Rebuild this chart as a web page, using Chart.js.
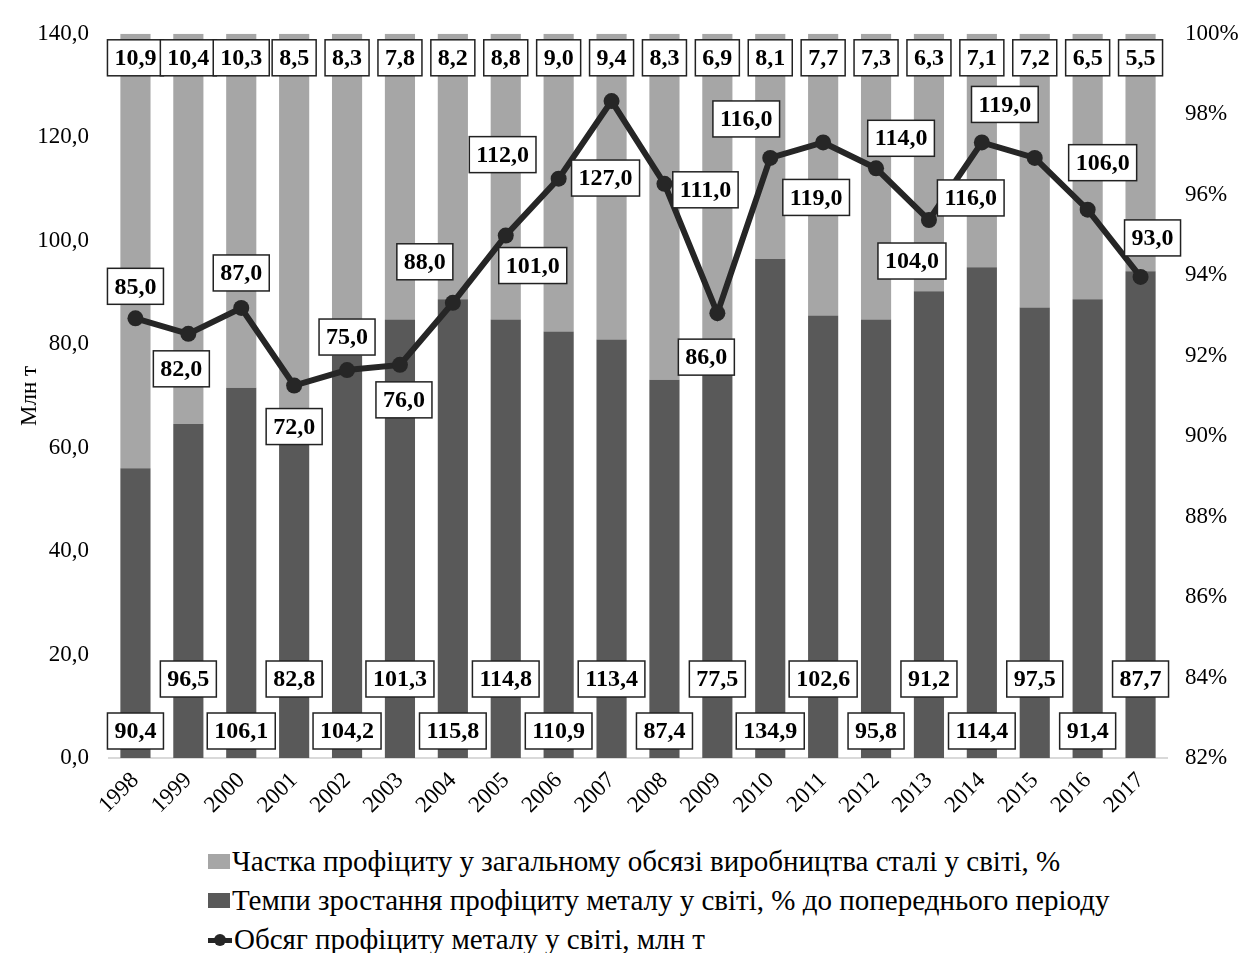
<!DOCTYPE html>
<html lang="uk">
<head>
  <meta charset="UTF-8">
  <title>Профіцит металу у світі</title>
  <script src="https://cdn.jsdelivr.net/npm/chart.js@4.4.1/dist/chart.umd.min.js"></script>
  <style>
    body {
      margin: 0;
      background: #fff;
      font-family: "Liberation Serif", "Times New Roman", serif;
    }
    #wrap {
      position: relative;
      width: 1244px;
      height: 953px;
    }
    #chart {
      position: absolute;
      left: 0;
      top: 0;
    }
    .legend {
      position: absolute;
      left: 208px;
      top: 842px;
      font-size: 29px;
      color: #000;
    }
    .legend .row {
      height: 39px;
      line-height: 39px;
      display: flex;
      align-items: center;
      white-space: nowrap;
    }
    .sw {
      display: inline-block;
      width: 22px;
      height: 15px;
      margin-right: 2px;
    }
    .sw.light { background: #a6a6a6; }
    .sw.dark { background: #595959; }
    .sw.line {
      position: relative;
      width: 24px;
      height: 14px;
      background: none;
    }
    .sw.line::before {
      content: "";
      position: absolute;
      left: 0;
      right: 0;
      top: 5px;
      height: 5px;
      background: #262626;
    }
    .sw.line::after {
      content: "";
      position: absolute;
      left: 6px;
      top: 1px;
      width: 12px;
      height: 12px;
      border-radius: 50%;
      background: #262626;
    }
  </style>
</head>
<body>
  <div id="wrap">
    <canvas id="chart" width="1244" height="840"></canvas>
    <div class="legend">
      <div class="row"><span class="sw light"></span>Частка профіциту у загальному обсязі виробництва сталі у світі, %</div>
      <div class="row"><span class="sw dark"></span>Темпи зростання профіциту металу у світі, % до попереднього періоду</div>
      <div class="row"><span class="sw line"></span>Обсяг профіциту металу у світі, млн т</div>
    </div>
  </div>

  <script>
    const years = ['1998', '1999', '2000', '2001', '2002', '2003', '2004', '2005', '2006', '2007',
                   '2008', '2009', '2010', '2011', '2012', '2013', '2014', '2015', '2016', '2017'];

    // share of surplus in world steel output, %
    const sharePct = [10.9, 10.4, 10.3, 8.5, 8.3, 7.8, 8.2, 8.8, 9.0, 9.4,
                      8.3, 6.9, 8.1, 7.7, 7.3, 6.3, 7.1, 7.2, 6.5, 5.5];

    // growth of surplus vs previous period, %
    const growthPct = [90.4, 96.5, 106.1, 82.8, 104.2, 101.3, 115.8, 114.8, 110.9, 113.4,
                       87.4, 77.5, 134.9, 102.6, 95.8, 91.2, 114.4, 97.5, 91.4, 87.7];

    // surplus volume, mln t
    const surplus = [85, 82, 87, 72, 75, 76, 88, 101, 112, 127,
                     111, 86, 116, 119, 114, 104, 119, 116, 106, 93];

    // height of the dark bar on the right (%) axis
    const darkLevel = [89.2, 90.3, 91.2, 90.1, 92.0, 92.9, 93.4, 92.9, 92.6, 92.4,
                       91.4, 91.8, 94.4, 93.0, 92.9, 93.6, 94.2, 93.2, 93.4, 94.1];

    // where each surplus label sits relative to its point, px
    const surplusLabelShift = [
      [0, -32], [-7, 35], [0, -35], [0, 41], [0, -33], [4, 35], [-28, -41], [27, 30], [-56, -24], [-6, 77],
      [41, 6], [-11, 44], [-24, -39], [-7, 55], [25, -30], [-17, 41], [23, -38], [-64, 40], [15, -47], [12, -39]
    ];

    const fmt = v => v.toFixed(1).replace('.', ',');
    const serif = '"Liberation Serif", "Times New Roman", serif';

    function drawBox(ctx, text, cx, cy) {
      const w = ctx.measureText(text).width + 14;
      const h = 36;
      ctx.fillStyle = '#fff';
      ctx.fillRect(cx - w / 2, cy - h / 2, w, h);
      ctx.lineWidth = 1.5;
      ctx.strokeStyle = '#222';
      ctx.strokeRect(cx - w / 2, cy - h / 2, w, h);
      ctx.fillStyle = '#000';
      ctx.fillText(text, cx, cy + 1);
    }

    const boxLabels = {
      id: 'boxLabels',
      afterDatasetsDraw(chart) {
        const { ctx, scales } = chart;
        const x = scales.x, y = scales.y, yR = scales.yR;
        ctx.save();
        ctx.font = 'bold 24px ' + serif;
        ctx.textAlign = 'center';
        ctx.textBaseline = 'middle';

        const topRow = yR.getPixelForValue(100) + 24;
        const base = y.getPixelForValue(0);
        years.forEach((yr, i) => {
          const cx = x.getPixelForValue(i);
          drawBox(ctx, fmt(sharePct[i]), cx, topRow);
          drawBox(ctx, fmt(growthPct[i]), cx, base - (i % 2 === 0 ? 27 : 79));
        });

        const pts = chart.getDatasetMeta(2).data;
        pts.forEach((p, i) => {
          const [dx, dy] = surplusLabelShift[i];
          drawBox(ctx, fmt(surplus[i]), p.x + dx, p.y + dy);
        });
        ctx.restore();
      }
    };

    const ctx = document.querySelector('#chart').getContext('2d');
    const chart = new Chart(ctx, {
      data: {
        labels: years,
        datasets: [
          {
            type: 'bar',
            label: 'Темпи зростання профіциту металу у світі, % до попереднього періоду',
            data: darkLevel,
            yAxisID: 'yR',
            backgroundColor: '#595959',
            barPercentage: 0.57,
            categoryPercentage: 1,
            order: 2
          },
          {
            type: 'bar',
            label: 'Частка профіциту у загальному обсязі виробництва сталі у світі, %',
            data: darkLevel.map(v => [v, 100]),
            yAxisID: 'yR',
            backgroundColor: '#a6a6a6',
            barPercentage: 0.57,
            categoryPercentage: 1,
            order: 3
          },
          {
            type: 'line',
            label: 'Обсяг профіциту металу у світі, млн т',
            data: surplus,
            yAxisID: 'y',
            borderColor: '#262626',
            backgroundColor: '#262626',
            borderWidth: 6,
            pointRadius: 8,
            pointBorderWidth: 0,
            tension: 0,
            order: 1
          }
        ]
      },
      options: {
        responsive: false,
        animation: false,
        layout: { padding: { top: 30, left: 0, right: 0, bottom: 0 } },
        plugins: {
          legend: { display: false },
          tooltip: { enabled: false }
        },
        scales: {
          x: {
            stacked: true,
            grid: { display: false, drawTicks: false },
            border: { color: '#d9d9d9', width: 2 },
            ticks: {
              color: '#000',
              font: { family: serif, size: 23 },
              minRotation: 45,
              maxRotation: 45,
              padding: 9
            },
            afterFit: s => { s.height = 82; }
          },
          y: {
            position: 'left',
            min: 0,
            max: 140,
            grid: { display: false, drawTicks: false },
            border: { display: false },
            ticks: {
              stepSize: 20,
              color: '#000',
              font: { family: serif, size: 23 },
              padding: 20,
              callback: v => fmt(v)
            },
            title: {
              display: true,
              text: 'Млн т',
              color: '#000',
              font: { family: serif, size: 23 },
              padding: { top: 16, bottom: 0 }
            },
            afterFit: s => { s.width = 109; }
          },
          yR: {
            position: 'right',
            min: 82,
            max: 100,
            grid: { display: false, drawTicks: false },
            border: { display: false },
            ticks: {
              stepSize: 2,
              color: '#000',
              font: { family: serif, size: 23 },
              padding: 18,
              callback: v => v + '%'
            },
            afterFit: s => { s.width = 77; }
          }
        }
      },
      plugins: [boxLabels]
    });
  </script>
</body>
</html>
